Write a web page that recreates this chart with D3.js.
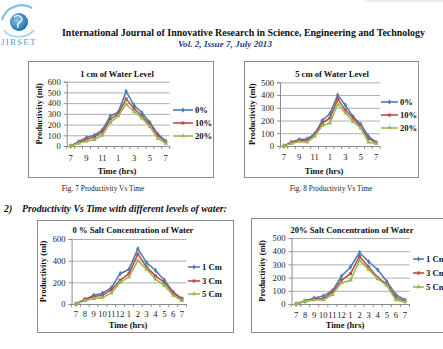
<!DOCTYPE html>
<html>
<head>
<meta charset="utf-8">
<script src="https://cdn.jsdelivr.net/npm/d3@7"></script>
<style>
  html, body { margin: 0; padding: 0; background: #fff; }
  svg { display: block; }
  text { font-family: 'Liberation Serif', 'Times New Roman', serif; }
</style>
</head>
<body>
<svg id="page" width="443" height="349"></svg>
<script>
/* ── data ─────────────────────────────────────────────── */
const hours = ['7', '8', '9', '10', '11', '12', '1', '2', '3', '4', '5', '6', '7'];
const saltNames = ['0%', '10%', '20%'];
const depthNames = ['1 Cm', '3 Cm', '5 Cm'];

// Fig. 7 – 1 cm of water, by salt concentration
const cm1Salt0  = [0, 40, 80, 100, 150, 280, 315, 510, 380, 310, 220, 110, 45];
const cm1Salt10 = [0, 35, 60, 85, 130, 250, 300, 440, 350, 280, 200, 100, 35];
const cm1Salt20 = [0, 25, 45, 60, 100, 220, 280, 390, 320, 260, 180, 70, 25];

// Fig. 8 – 5 cm of water, by salt concentration
const cm5Salt0  = [0, 30, 50, 55, 95, 200, 255, 400, 320, 230, 170, 75, 30];
const cm5Salt10 = [0, 30, 45, 40, 85, 180, 220, 370, 280, 220, 150, 60, 25];
const cm5Salt20 = [0, 20, 35, 30, 75, 160, 180, 330, 260, 190, 140, 30, 20];

// 0 % salt, by water depth
const salt0Cm1 = [0, 40, 80, 100, 150, 280, 320, 510, 380, 310, 220, 110, 50];
const salt0Cm3 = [0, 45, 70, 80, 130, 220, 280, 460, 340, 260, 200, 100, 45];
const salt0Cm5 = [0, 30, 50, 60, 100, 200, 250, 400, 320, 230, 170, 80, 30];

// 20 % salt, by water depth
const salt20Cm1 = [0, 20, 45, 60, 100, 210, 280, 390, 320, 260, 170, 70, 30];
const salt20Cm3 = [0, 25, 40, 40, 90, 180, 230, 360, 280, 200, 150, 50, 20];
const salt20Cm5 = [0, 20, 30, 30, 70, 160, 180, 330, 260, 190, 140, 30, 15];

const ticks600 = [0, 100, 200, 300, 400, 500, 600];
const ticks600by200 = [0, 200, 400, 600];
const ticks500 = [0, 100, 200, 300, 400, 500];

/* ── page ─────────────────────────────────────────────── */
const svg = d3.select('#page');
const colors = ['#4a7ebb', '#be4b48', '#98b954'];
const shapes = [d3.symbolDiamond, d3.symbolSquare, d3.symbolTriangle];

// faint bar top-right (scan artefact)
svg.append('rect').attr('x', 365).attr('y', 0).attr('width', 78).attr('height', 2).attr('fill', '#ececec');

// logo
const logo = svg.append('g');
const lg = svg.append('defs').append('radialGradient').attr('id', 'globe')
  .attr('cx', '40%').attr('cy', '40%').attr('r', '60%');
lg.append('stop').attr('offset', '0%').attr('stop-color', '#8fc6ea');
lg.append('stop').attr('offset', '100%').attr('stop-color', '#1f6fae');
logo.append('path')
  .attr('d', 'M2,20 C6,6 22,2 32,8')
  .attr('fill', 'none').attr('stroke', '#7fc0e6').attr('stroke-width', 2.2);
logo.append('path')
  .attr('d', 'M4,30 C8,38 26,40 34,30')
  .attr('fill', 'none').attr('stroke', '#9fd0ee').attr('stroke-width', 1.6);
logo.append('circle').attr('cx', 19).attr('cy', 22).attr('r', 9).attr('fill', 'url(#globe)');
logo.append('path')
  .attr('d', 'M14,17 q4,-3 7,0 q2,3 -1,5 q-3,2 -2,6')
  .attr('fill', 'none').attr('stroke', '#dff0fa').attr('stroke-width', 1.6);
logo.append('text').attr('x', 1).attr('y', 45)
  .attr('font-size', 9).attr('fill', '#4b9fd4').attr('letter-spacing', 1.2)
  .text('JIRSET');

svg.append('text').attr('x', 62).attr('y', 35.5)
  .attr('font-size', 9.6).attr('font-weight', 'bold').attr('fill', '#111')
  .attr('textLength', 363).attr('lengthAdjust', 'spacingAndGlyphs')
  .text('International Journal of Innovative Research in Science, Engineering and Technology');
svg.append('text').attr('x', 178).attr('y', 47)
  .attr('font-size', 9).attr('font-weight', 'bold').attr('font-style', 'italic').attr('fill', '#1f3b84')
  .attr('textLength', 94).attr('lengthAdjust', 'spacingAndGlyphs')
  .text('Vol. 2, Issue 7, July 2013');

svg.append('text').attr('x', 103).attr('y', 191).attr('text-anchor', 'middle')
  .attr('font-size', 7.4).attr('fill', '#222').text('Fig. 7 Productivity Vs Time');
svg.append('text').attr('x', 331).attr('y', 191).attr('text-anchor', 'middle')
  .attr('font-size', 7.4).attr('fill', '#222').text('Fig. 8 Productivity Vs Time');

svg.append('text').attr('x', 4).attr('y', 212)
  .attr('font-size', 9.8).attr('font-weight', 'bold').attr('font-style', 'italic').attr('fill', '#111')
  .attr('xml:space', 'preserve')
  .text('2)    Productivity Vs Time with different levels of water:');

/* ── charts ───────────────────────────────────────────── */
function drawChart(c) {
  const g = svg.append('g');
  g.append('rect')
    .attr('x', c.box[0] + 0.5).attr('y', c.box[1] + 0.5)
    .attr('width', c.box[2]).attr('height', c.box[3])
    .attr('fill', '#fff').attr('stroke', '#8c8c8c').attr('stroke-width', 1);

  const x = d3.scaleBand().domain(d3.range(hours.length)).range([c.plot.l, c.plot.r]).padding(0);
  const cx = i => x(i) + x.bandwidth() / 2;
  const y = d3.scaleLinear().domain([0, c.yMax]).range([c.plot.b, c.plot.t]);

  // gridlines
  g.append('g')
    .attr('transform', `translate(${c.plot.l},0)`)
    .call(d3.axisLeft(y).tickValues(c.ticks).tickSize(-(c.plot.r - c.plot.l)).tickFormat(''))
    .call(gg => gg.select('.domain').remove())
    .call(gg => gg.selectAll('.tick line').attr('stroke', '#9a9a9a').attr('stroke-width', 0.8));

  // y axis
  g.append('g')
    .attr('transform', `translate(${c.plot.l},0)`)
    .call(d3.axisLeft(y).tickValues(c.ticks).tickSize(3).tickPadding(3))
    .call(gg => gg.select('.domain').attr('stroke', '#8c8c8c'))
    .call(gg => gg.selectAll('.tick line').attr('stroke', '#8c8c8c'))
    .call(gg => gg.selectAll('.tick text')
      .attr('font-family', 'Liberation Serif, serif').attr('font-size', 8.6).attr('fill', '#222'));

  // x axis
  g.append('g')
    .attr('transform', `translate(0,${c.plot.b})`)
    .call(d3.axisBottom(x).tickSize(0).tickPadding(c.xPad)
      .tickFormat(i => (c.everyOther && i % 2) ? '' : hours[i]))
    .call(gg => gg.select('.domain').attr('stroke', '#8c8c8c'))
    .call(gg => gg.selectAll('.tick text')
      .attr('font-family', 'Liberation Serif, serif').attr('font-size', 8.6).attr('fill', '#222'));
  g.append('g').selectAll('line')
    .data(d3.range(hours.length + 1))
    .join('line')
    .attr('x1', i => c.plot.l + i * x.bandwidth()).attr('x2', i => c.plot.l + i * x.bandwidth())
    .attr('y1', c.plot.b).attr('y2', c.plot.b + 3)
    .attr('stroke', '#8c8c8c');

  // titles
  g.append('text').attr('x', c.titleX).attr('y', c.titleY).attr('text-anchor', 'middle')
    .attr('font-size', 8.6).attr('font-weight', 'bold').attr('fill', '#111').text(c.title);
  g.append('text').attr('x', c.xTitleX).attr('y', c.xTitleY).attr('text-anchor', 'middle')
    .attr('font-size', 8.6).attr('font-weight', 'bold').attr('fill', '#111').text('Time (hrs)');
  g.append('text')
    .attr('transform', `translate(${c.yTitleX},${(c.plot.t + c.plot.b) / 2}) rotate(-90)`)
    .attr('text-anchor', 'middle').attr('dy', '0.35em')
    .attr('font-size', 8.4).attr('font-weight', 'bold').attr('fill', '#111').text('Productivity (ml)');

  // series
  const line = d3.line().x((d, i) => cx(i)).y(d => y(d));
  c.series.forEach((s, k) => {
    g.append('path').datum(s)
      .attr('d', line).attr('fill', 'none')
      .attr('stroke', colors[k]).attr('stroke-width', 1.6);
    g.append('g').selectAll('path')
      .data(s).join('path')
      .attr('transform', (d, i) => `translate(${cx(i)},${y(d)})`)
      .attr('d', d3.symbol(shapes[k], 9))
      .attr('fill', colors[k]);
  });

  // legend
  c.names.forEach((n, k) => {
    const ly = c.legend.ys[k];
    g.append('line').attr('x1', c.legend.x1).attr('x2', c.legend.x2)
      .attr('y1', ly).attr('y2', ly).attr('stroke', colors[k]).attr('stroke-width', 1.6);
    g.append('path')
      .attr('transform', `translate(${(c.legend.x1 + c.legend.x2) / 2},${ly})`)
      .attr('d', d3.symbol(shapes[k], 9)).attr('fill', colors[k]);
    g.append('text').attr('x', c.legend.tx).attr('y', ly).attr('dy', '0.35em')
      .attr('font-size', 8.6).attr('font-weight', 'bold').attr('fill', '#111').text(n);
  });
}

drawChart({
  box: [28, 61, 185, 116],
  plot: { l: 66.7, r: 169.7, t: 81.7, b: 146 },
  yMax: 600, ticks: ticks600, everyOther: true, xPad: 9,
  title: '1 cm of Water Level', titleX: 117, titleY: 76.5,
  xTitleX: 117, xTitleY: 174, yTitleX: 39,
  series: [cm1Salt0, cm1Salt10, cm1Salt20], names: saltNames,
  legend: { x1: 173, x2: 193, tx: 195, ys: [110, 123, 136] }
});

drawChart({
  box: [244, 61, 174, 116],
  plot: { l: 280, r: 380, t: 82.3, b: 146 },
  yMax: 500, ticks: ticks500, everyOther: true, xPad: 8,
  title: '5 cm of Water Level', titleX: 332, titleY: 76.5,
  xTitleX: 324, xTitleY: 174, yTitleX: 252,
  series: [cm5Salt0, cm5Salt10, cm5Salt20], names: saltNames,
  legend: { x1: 381, x2: 398, tx: 400, ys: [102, 115, 128] }
});

drawChart({
  box: [37, 220, 196, 112],
  plot: { l: 71.6, r: 186.4, t: 239, b: 304 },
  yMax: 600, ticks: ticks600by200, everyOther: false, xPad: 7,
  title: '0 % Salt Concentration of Water', titleX: 133, titleY: 233,
  xTitleX: 128, xTitleY: 328, yTitleX: 43,
  series: [salt0Cm1, salt0Cm3, salt0Cm5], names: depthNames,
  legend: { x1: 188, x2: 200, tx: 202, ys: [267, 281, 294] }
});

// the page is cropped at its right edge, so this legend runs off it as in the scan
drawChart({
  box: [251, 218, 200, 114],
  plot: { l: 291.5, r: 409.5, t: 238, b: 304 },
  yMax: 500, ticks: ticks500, everyOther: false, xPad: 8,
  title: '20% Salt Concentration of Water', titleX: 352, titleY: 233,
  xTitleX: 345, xTitleY: 328, yTitleX: 262,
  series: [salt20Cm1, salt20Cm3, salt20Cm5], names: depthNames,
  legend: { x1: 413, x2: 424, tx: 426, ys: [259, 273, 287] }
});
</script>
</body>
</html>
